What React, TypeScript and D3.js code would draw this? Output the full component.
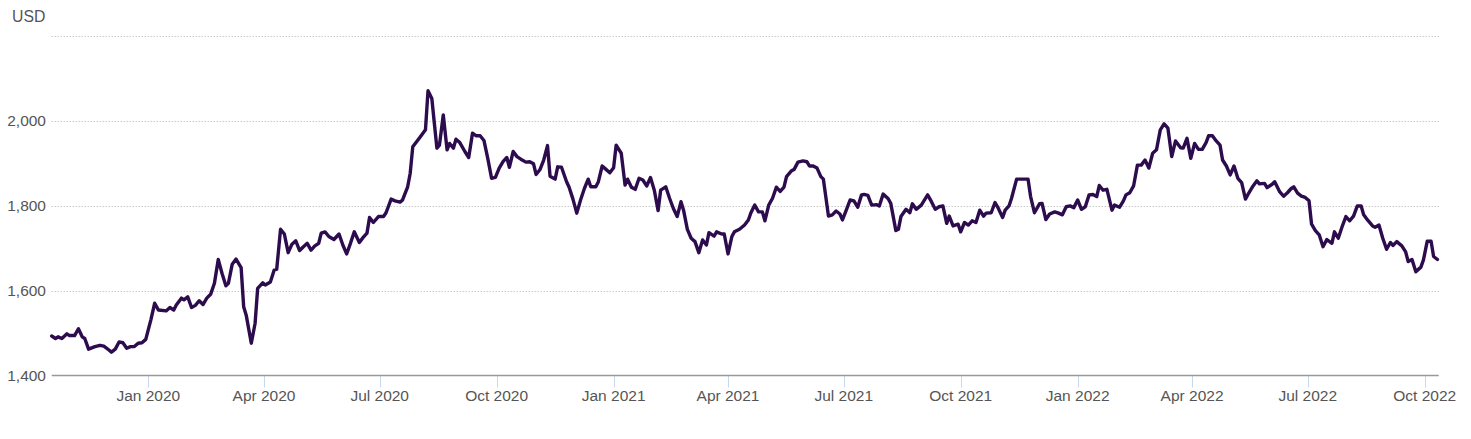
import React from "react";
import * as d3 from "d3";

const dates: string[] = [
  "2019-10-17","2019-10-20","2019-10-22","2019-10-25","2019-10-29","2019-10-31","2019-11-04","2019-11-07","2019-11-10","2019-11-12",
  "2019-11-15","2019-11-20","2019-11-24","2019-11-27","2019-12-01","2019-12-03","2019-12-06","2019-12-09","2019-12-12","2019-12-15",
  "2019-12-18","2019-12-21","2019-12-24","2019-12-27","2019-12-30","2020-01-03","2020-01-06","2020-01-09","2020-01-15","2020-01-18",
  "2020-01-21","2020-01-23","2020-01-27","2020-01-29","2020-02-01","2020-02-04","2020-02-07","2020-02-10","2020-02-13","2020-02-16",
  "2020-02-19","2020-02-22","2020-02-25","2020-02-28","2020-03-02","2020-03-04","2020-03-07","2020-03-10","2020-03-14","2020-03-16",
  "2020-03-18","2020-03-22","2020-03-25","2020-03-27","2020-03-31","2020-04-02","2020-04-06","2020-04-09","2020-04-11","2020-04-14",
  "2020-04-17","2020-04-20","2020-04-23","2020-04-26","2020-04-29","2020-05-02","2020-05-05","2020-05-08","2020-05-11","2020-05-14",
  "2020-05-16","2020-05-19","2020-05-22","2020-05-26","2020-05-30","2020-06-02","2020-06-05","2020-06-08","2020-06-11","2020-06-15",
  "2020-06-18","2020-06-21","2020-06-23","2020-06-26","2020-06-30","2020-07-04","2020-07-06","2020-07-10","2020-07-13","2020-07-17",
  "2020-07-19","2020-07-23","2020-07-25","2020-07-27","2020-07-30","2020-08-02","2020-08-06","2020-08-08","2020-08-11","2020-08-13",
  "2020-08-15","2020-08-17","2020-08-20","2020-08-23","2020-08-25","2020-08-28","2020-08-30","2020-09-02","2020-09-06","2020-09-09",
  "2020-09-12","2020-09-15","2020-09-18","2020-09-21","2020-09-24","2020-09-27","2020-09-30","2020-10-03","2020-10-06","2020-10-09",
  "2020-10-11","2020-10-14","2020-10-17","2020-10-20","2020-10-24","2020-10-27","2020-10-30","2020-11-01","2020-11-04","2020-11-07",
  "2020-11-10","2020-11-12","2020-11-16","2020-11-18","2020-11-21","2020-11-25","2020-11-27","2020-11-30","2020-12-03","2020-12-06",
  "2020-12-09","2020-12-12","2020-12-14","2020-12-18","2020-12-20","2020-12-23","2020-12-26","2020-12-29","2021-01-01","2021-01-03",
  "2021-01-07","2021-01-10","2021-01-12","2021-01-15","2021-01-18","2021-01-21","2021-01-24","2021-01-27","2021-01-30","2021-02-02",
  "2021-02-05","2021-02-07","2021-02-11","2021-02-14","2021-02-17","2021-02-20","2021-02-23","2021-02-25","2021-02-28","2021-03-03",
  "2021-03-06","2021-03-09","2021-03-12","2021-03-15","2021-03-17","2021-03-21","2021-03-23","2021-03-27","2021-03-29","2021-04-01",
  "2021-04-04","2021-04-06","2021-04-10","2021-04-14","2021-04-17","2021-04-19","2021-04-22","2021-04-25","2021-04-28","2021-04-30",
  "2021-05-03","2021-05-06","2021-05-09","2021-05-12","2021-05-15","2021-05-17","2021-05-21","2021-05-23","2021-05-26","2021-05-30",
  "2021-06-02","2021-06-04","2021-06-07","2021-06-10","2021-06-13","2021-06-15","2021-06-19","2021-06-22","2021-06-25","2021-06-28",
  "2021-06-30","2021-07-03","2021-07-06","2021-07-09","2021-07-12","2021-07-15","2021-07-17","2021-07-20","2021-07-23","2021-07-27",
  "2021-07-29","2021-08-01","2021-08-05","2021-08-07","2021-08-11","2021-08-13","2021-08-15","2021-08-19","2021-08-22","2021-08-24",
  "2021-08-27","2021-08-31","2021-09-05","2021-09-08","2021-09-11","2021-09-14","2021-09-17","2021-09-20","2021-09-22","2021-09-25",
  "2021-09-29","2021-10-01","2021-10-04","2021-10-07","2021-10-10","2021-10-13","2021-10-16","2021-10-19","2021-10-21","2021-10-25",
  "2021-10-28","2021-10-30","2021-11-03","2021-11-05","2021-11-08","2021-11-10","2021-11-14","2021-11-18","2021-11-23","2021-11-25",
  "2021-11-28","2021-12-02","2021-12-04","2021-12-07","2021-12-10","2021-12-14","2021-12-17","2021-12-20","2021-12-23","2021-12-26",
  "2021-12-29","2022-01-01","2022-01-04","2022-01-07","2022-01-10","2022-01-13","2022-01-16","2022-01-18","2022-01-21","2022-01-24",
  "2022-01-28","2022-01-30","2022-02-03","2022-02-06","2022-02-08","2022-02-11","2022-02-14","2022-02-17","2022-02-20","2022-02-23",
  "2022-02-26","2022-03-01","2022-03-04","2022-03-07","2022-03-10","2022-03-13","2022-03-16","2022-03-19","2022-03-23","2022-03-25",
  "2022-03-28","2022-03-31","2022-04-03","2022-04-06","2022-04-09","2022-04-12","2022-04-14","2022-04-17","2022-04-20","2022-04-23",
  "2022-04-25","2022-04-28","2022-05-01","2022-05-04","2022-05-07","2022-05-10","2022-05-13","2022-05-15","2022-05-19","2022-05-22",
  "2022-05-24","2022-05-28","2022-05-30","2022-06-03","2022-06-05","2022-06-09","2022-06-12","2022-06-15","2022-06-18","2022-06-20",
  "2022-06-23","2022-06-26","2022-06-29","2022-07-02","2022-07-04","2022-07-07","2022-07-10","2022-07-13","2022-07-16","2022-07-20",
  "2022-07-22","2022-07-25","2022-07-28","2022-07-31","2022-08-03","2022-08-06","2022-08-09","2022-08-12","2022-08-14","2022-08-17",
  "2022-08-21","2022-08-23","2022-08-26","2022-08-29","2022-09-01","2022-09-04","2022-09-06","2022-09-09","2022-09-13","2022-09-16",
  "2022-09-18","2022-09-21","2022-09-24","2022-09-28","2022-09-30","2022-10-03","2022-10-06","2022-10-08","2022-10-11"
];

const prices: number[] = [
  1493,1487,1491,1487,1498,1494,1494,1510,1491,1487,
  1462,1468,1471,1469,1460,1455,1462,1479,1477,1464,
  1468,1468,1476,1477,1485,1531,1570,1554,1552,1560,
  1554,1566,1582,1578,1585,1560,1565,1576,1567,1582,
  1591,1617,1673,1640,1611,1617,1662,1674,1654,1562,
  1542,1476,1523,1605,1618,1613,1620,1648,1650,1744,
  1733,1689,1709,1717,1694,1703,1711,1695,1705,1711,
  1735,1738,1727,1720,1733,1707,1686,1711,1738,1713,
  1725,1735,1772,1760,1774,1774,1783,1815,1811,1808,
  1813,1844,1876,1938,1950,1962,1978,2070,2052,1993,
  1935,1942,2013,1931,1946,1935,1956,1948,1927,1913,
  1970,1964,1964,1953,1911,1864,1866,1888,1903,1913,
  1890,1927,1915,1909,1902,1903,1898,1873,1884,1907,
  1941,1869,1862,1891,1890,1856,1843,1815,1782,1813,
  1840,1862,1844,1844,1856,1893,1885,1877,1889,1942,
  1923,1848,1862,1843,1838,1864,1860,1846,1866,1836,
  1788,1836,1844,1817,1793,1774,1809,1789,1744,1723,
  1715,1689,1719,1707,1736,1728,1738,1733,1733,1686,
  1727,1738,1744,1754,1766,1783,1801,1785,1785,1764,
  1801,1817,1843,1833,1843,1868,1882,1885,1902,1905,
  1903,1893,1893,1888,1868,1862,1775,1778,1787,1780,
  1766,1789,1813,1811,1796,1825,1826,1824,1801,1802,
  1799,1827,1816,1805,1741,1744,1774,1791,1783,1804,
  1791,1801,1825,1809,1791,1797,1799,1758,1775,1752,
  1756,1738,1760,1754,1764,1760,1789,1775,1782,1783,
  1807,1797,1772,1789,1799,1817,1862,1862,1862,1821,
  1783,1804,1805,1767,1780,1785,1782,1778,1797,1799,
  1795,1813,1791,1797,1825,1826,1821,1847,1836,1838,
  1789,1801,1796,1811,1825,1830,1846,1895,1895,1907,
  1888,1923,1931,1978,1992,1982,1915,1952,1936,1935,
  1958,1911,1946,1932,1932,1948,1964,1964,1952,1942,
  1907,1893,1872,1893,1864,1854,1815,1826,1846,1858,
  1851,1852,1842,1850,1856,1832,1822,1830,1840,1844,
  1829,1822,1819,1811,1756,1741,1731,1703,1720,1711,
  1738,1723,1750,1774,1764,1775,1799,1799,1778,1766,
  1752,1749,1754,1723,1697,1713,1706,1715,1705,1691,
  1668,1673,1644,1655,1672,1716,1716,1680,1673
];

const yTicks: number[] = [1400, 1600, 1800, 2000, 2200];
const yTickLabels: string[] = ["1,400", "1,600", "1,800", "2,000", ""];
const unitLabel = "USD";
const domainStart = "2019-10-17";
const domainEnd = "2022-10-12";

const W = 1471;
const H = 439;
const left = 51.7;
const right = 1438.7;
const yBottom = 375.5;
const yTop = 35.5;
const FONT = "'Liberation Sans', Arial, Helvetica, sans-serif";
const TEXT = "#555555";
const LINE = "#2d0c4e";

export default function App() {
  const parse = d3.timeParse("%Y-%m-%d");
  const data = dates.map((d, i) => ({ date: parse(d) as Date, value: prices[i] }));

  const x = d3
    .scaleTime()
    .domain([parse(domainStart) as Date, parse(domainEnd) as Date])
    .range([left, right]);
  const y = d3.scaleLinear().domain([1400, 2200]).range([yBottom, yTop]);

  const line = d3
    .line<{ date: Date; value: number }>()
    .x((d) => x(d.date))
    .y((d) => y(d.value));

  const xTicks = x.ticks(d3.timeMonth.every(3) as any);
  const fmt = d3.timeFormat("%b %Y");

  return (
    <svg
      width={W}
      height={H}
      style={{ position: "absolute", left: 0, top: 0, background: "#fff" }}
      fontFamily={FONT}
    >
      <text x={12} y={21.5} fontSize={15.8} fill={TEXT}>
        {unitLabel}
      </text>
      {yTicks.map((t) =>
        t === 1400 ? null : (
          <line
            key={"g" + t}
            x1={left}
            x2={right}
            y1={Math.round(y(t)) + 0.5}
            y2={Math.round(y(t)) + 0.5}
            stroke="#b0b0b0"
            strokeWidth={1}
            strokeDasharray="1,2"
          />
        )
      )}
      {yTicks.map((t, i) =>
        yTickLabels[i] ? (
          <text
            key={"yl" + t}
            x={46}
            y={y(t) + 5.5}
            textAnchor="end"
            fontSize={15.5}
            fill={TEXT}
          >
            {yTickLabels[i]}
          </text>
        ) : null
      )}
      {xTicks.map((t) => (
        <g key={"xt" + t.getTime()}>
          <line
            x1={Math.round(x(t)) + 0.5}
            x2={Math.round(x(t)) + 0.5}
            y1={yBottom}
            y2={yBottom + 12}
            stroke="#ccd6eb"
            strokeWidth={1}
          />
          <text x={x(t)} y={400.5} textAnchor="middle" fontSize={15.5} fill={TEXT}>
            {fmt(t)}
          </text>
        </g>
      ))}
      <line x1={left} x2={right} y1={yBottom} y2={yBottom} stroke="#999999" strokeWidth={1.3} />
      <path
        d={line(data) || ""}
        fill="none"
        stroke={LINE}
        strokeWidth={3.4}
        strokeLinejoin="round"
        strokeLinecap="round"
      />
    </svg>
  );
}
